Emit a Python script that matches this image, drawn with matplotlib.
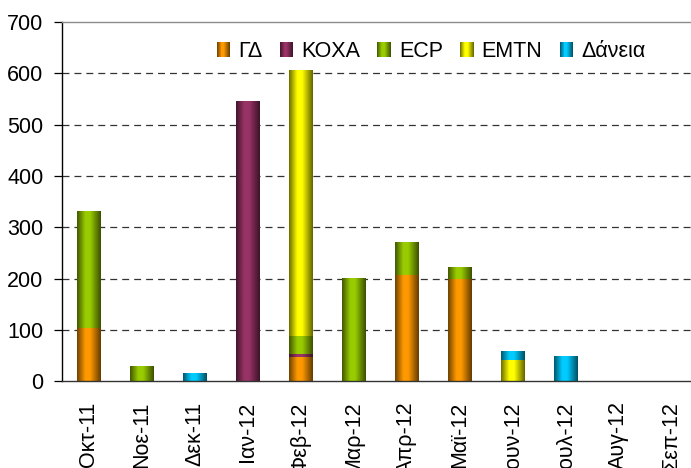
import numpy as np
import matplotlib
matplotlib.use("Agg")
import matplotlib.pyplot as plt
from matplotlib.patches import Rectangle
from matplotlib.legend_handler import HandlerBase
from matplotlib.colors import to_rgb

plt.rcParams['font.family'] = ['Liberation Sans', 'DejaVu Sans']
plt.rcParams['lines.scale_dashes'] = False

# ---- data ----
months = ['Οκτ-11', 'Νοε-11', 'Δεκ-11', 'Ιαν-12', 'Φεβ-12', 'Μαρ-12',
          'Απρ-12', 'Μαϊ-12', 'Ιουν-12', 'Ιουλ-12', 'Αυγ-12', 'Σεπ-12']
series_names = ['ΓΔ', 'ΚΟΧΑ', 'ECP', 'EMTN', 'Δάνεια']
gd     = [104, 0, 0, 0, 48, 0, 207, 199, 0, 0, 0, 0]
koxa   = [0, 0, 0, 545, 6, 0, 0, 0, 0, 0, 0, 0]
ecp    = [226, 28, 0, 0, 35, 199, 64, 22, 0, 0, 0, 0]
emtn   = [0, 0, 0, 0, 518, 0, 0, 0, 42, 0, 0, 0]
daneia = [0, 0, 14, 0, 0, 0, 0, 0, 17, 47, 0, 0]
series_values = [gd, koxa, ecp, emtn, daneia]
colors = ['#FF9900', '#993366', '#99CC00', '#FFFF00', '#00CCFF']
yticks = [0, 100, 200, 300, 400, 500, 600, 700]


def shade_factor(t):
    t = np.asarray(t, dtype=float)
    f = np.where(t < 0.35, 0.42 + (1 - 0.42) * (t / 0.35),
                 np.where(t < 0.55, 1.0, 1.0 - (1 - 0.38) * ((t - 0.55) / 0.45)))
    return f


def gradient_rgb(color, n=64):
    base = np.array(to_rgb(color))
    t = (np.arange(n) + 0.5) / n
    f = shade_factor(t)[:, None]
    return np.clip(base[None, :] * f, 0, 1)


class GradHandler(HandlerBase):
    def create_artists(self, legend, orig_handle, xdescent, ydescent,
                       width, height, fontsize, trans):
        col = orig_handle.get_facecolor()
        n = 14
        grad = gradient_rgb(col, n)
        arts = []
        for i in range(n):
            r = Rectangle((-xdescent + i * width / n, -ydescent),
                          width / n * 1.05, height, facecolor=grad[i],
                          edgecolor='none', transform=trans)
            arts.append(r)
        return arts


W, H = 691, 468
fig = plt.figure(figsize=(W / 100, H / 100), dpi=100)
left_px, right_px, top_px, zero_px = 62.3, 698.0, 22.0, 381.3
ax = fig.add_axes([left_px / W, 1 - zero_px / H,
                   (right_px - left_px) / W, (zero_px - top_px) / H])

x = np.arange(len(months))
bw = 0.44
bottom = np.zeros(len(months))
handles = []
for name, vals, col in zip(series_names, series_values, colors):
    vals = np.array(vals, dtype=float)
    bars = ax.bar(x, vals, bw, bottom=bottom, color=col, label=name,
                  zorder=2, linewidth=0)
    handles.append(bars.patches[0])
    grad = gradient_rgb(col)[None, :, :]
    for p in bars.patches:
        if p.get_height() <= 0:
            continue
        x0 = p.get_x()
        x1 = x0 + p.get_width()
        y0 = p.get_y()
        y1 = y0 + p.get_height()
        ax.imshow(grad, extent=(x0, x1, y0, y1), aspect='auto',
                  interpolation='bilinear', zorder=3)
    bottom = bottom + vals

ax.set_xlim(-0.5, len(months) - 0.5)
ax.set_ylim(0, 700)
ax.set_yticks(yticks)
ax.set_xticks(x)
ax.set_xticklabels(months, rotation=90, va='top', ha='center')

for yv in yticks[1:-1]:
    ax.axhline(yv, color='#333333', lw=0.9, linestyle=(0, (5.0, 3.6)), zorder=1)

ax.spines['right'].set_visible(False)
ax.spines['top'].set_color('#8c8c8c')
ax.spines['top'].set_linewidth(1.0)
ax.spines['left'].set_color('black')
ax.spines['left'].set_linewidth(1.0)
ax.spines['bottom'].set_color('#333333')
ax.spines['bottom'].set_linewidth(1.0)
ax.spines['bottom'].set_zorder(5)

ax.tick_params(axis='y', direction='out', length=6, width=0.9, pad=7.5,
               labelsize=15.5, colors='black')
ax.tick_params(axis='x', length=0, pad=14.5, labelsize=15.5, colors='black')

leg = fig.legend(handles, series_names, loc='center left',
                 bbox_to_anchor=(216.7 / W, 1 - 51.3 / H),
                 ncol=5, frameon=False, fontsize=15.5,
                 handlelength=0.62, handleheight=0.7, handletextpad=0.38,
                 columnspacing=0.8, borderpad=0, borderaxespad=0,
                 handler_map={matplotlib.patches.Rectangle: GradHandler()})

fig.savefig('out.png', dpi=100)
